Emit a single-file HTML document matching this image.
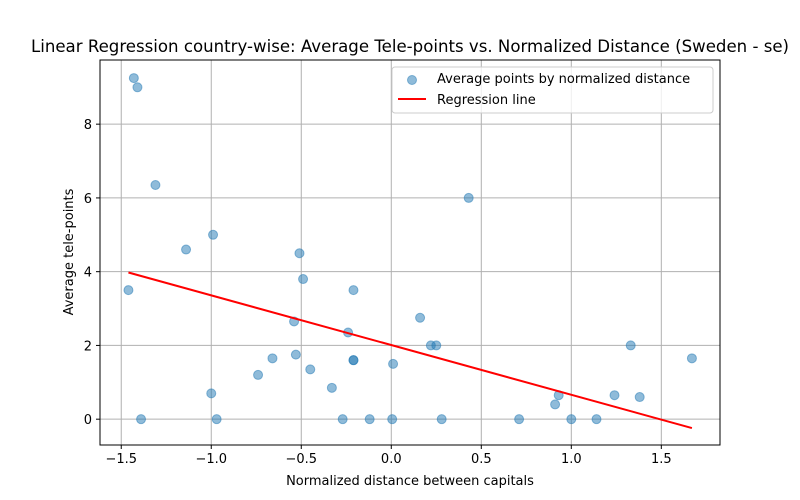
<!DOCTYPE html>
<html><head><meta charset="utf-8"><style>
html,body{margin:0;padding:0;background:#fff;}
svg{display:block;font-family:"DejaVu Sans","Liberation Sans",sans-serif;}
</style></head><body>
<svg id="chart" width="800" height="500"></svg>
<script>
const xs = [-1.43,-1.41,-1.31,-1.14,-0.99,-1.46,-0.51,-0.49,-0.21,-0.54,-0.24,-0.53,-0.66,-0.21,-0.21,-0.45,-0.74,-0.33,-1.0,-1.39,-0.97,-0.27,-0.12,0.005,0.43,0.16,0.22,0.25,0.01,0.28,0.71,1.0,1.14,0.93,0.91,1.24,1.33,1.38,1.67];
const ys = [9.25,9.0,6.35,4.6,5.0,3.5,4.5,3.8,3.5,2.65,2.35,1.75,1.65,1.6,1.6,1.35,1.2,0.85,0.7,0,0,0,0,0,6.0,2.75,2.0,2.0,1.5,0,0,0,0,0.65,0.4,0.65,2.0,0.6,1.65];
const slope = -1.348;
const intercept = 2.01;
const xTicks = [-1.5,-1.0,-0.5,0.0,0.5,1.0,1.5];
const xTickLabels = ["−1.5","−1.0","−0.5","0.0","0.5","1.0","1.5"];
const yTicks = [0,2,4,6,8];
const yTickLabels = ["0","2","4","6","8"];

const NS="http://www.w3.org/2000/svg";
const svg=document.getElementById('chart');
const L=100,R=720,T=60,B=445;
const xmin=-1.618,xmax=1.826,ymin=-0.70,ymax=9.74;
const sx=v=>L+(v-xmin)/(xmax-xmin)*(R-L);
const sy=v=>B-(v-ymin)/(ymax-ymin)*(B-T);
function mk(tag,attrs,parent){const e=document.createElementNS(NS,tag);for(const k in attrs)e.setAttribute(k,attrs[k]);(parent||svg).appendChild(e);return e;}

const grid=mk('g',{});


xTicks.forEach((t,i)=>{
  const x=sx(t);
  mk('line',{x1:x,x2:x,y1:T,y2:B,stroke:'#b0b0b0','stroke-width':1},grid);
  mk('line',{x1:x,x2:x,y1:B,y2:B+4,stroke:'#000'},svg);
  const tx=mk('text',{x:x,y:B+18,'font-size':13,'text-anchor':'middle'});
  tx.textContent=xTickLabels[i];
  
  
});
yTicks.forEach((t,i)=>{
  const y=sy(t);
  mk('line',{x1:L,x2:R,y1:y,y2:y,stroke:'#b0b0b0','stroke-width':1},grid);
  mk('line',{x1:L-4,x2:L,y1:y,y2:y,stroke:'#000'},svg);
  const tx=mk('text',{x:L-8,y:y+5,'font-size':13,'text-anchor':'end'});
  tx.textContent=yTickLabels[i];
  
  
});

const pts=mk('g',{});


xs.forEach((x,i)=>{
  const c=mk('circle',{cx:sx(x),cy:sy(ys[i]),r:4.5,fill:'#1f77b4','fill-opacity':0.5,stroke:'#1f77b4','stroke-opacity':0.5,'stroke-width':1},pts);
  
  
});

const x0=Math.min(...xs),x1=Math.max(...xs);
const rl=mk('line',{x1:sx(x0),y1:sy(slope*x0+intercept),x2:sx(x1),y2:sy(slope*x1+intercept),stroke:'red','stroke-width':2});



const frame=mk('rect',{x:L,y:T,width:R-L,height:B-T,fill:'none',stroke:'#000','stroke-width':1});



const title=mk('text',{x:410,y:52,'font-size':16.6,'text-anchor':'middle'});
title.textContent='Linear Regression country-wise: Average Tele-points vs. Normalized Distance (Sweden - se)';


const xl=mk('text',{x:410,y:485,'font-size':13,'text-anchor':'middle'});
xl.textContent='Normalized distance between capitals';


const yl=mk('text',{x:0,y:0,'font-size':13,'text-anchor':'middle',transform:'translate(73,252) rotate(-90)'});
yl.textContent='Average tele-points';



const lg=mk('g',{});


mk('rect',{x:392,y:67,width:321,height:46,rx:3,fill:'#fff','fill-opacity':0.8,stroke:'#ccc'},lg);
mk('circle',{cx:412,cy:80,r:4.5,fill:'#1f77b4','fill-opacity':0.5,stroke:'#1f77b4','stroke-opacity':0.5},lg);
const l1=mk('text',{x:437,y:83,'font-size':13},lg);
l1.textContent='Average points by normalized distance';


mk('line',{x1:398,x2:426,y1:99,y2:99,stroke:'red','stroke-width':2},lg);
const l2=mk('text',{x:437,y:104,'font-size':13},lg);
l2.textContent='Regression line';


</script>
</body></html>
